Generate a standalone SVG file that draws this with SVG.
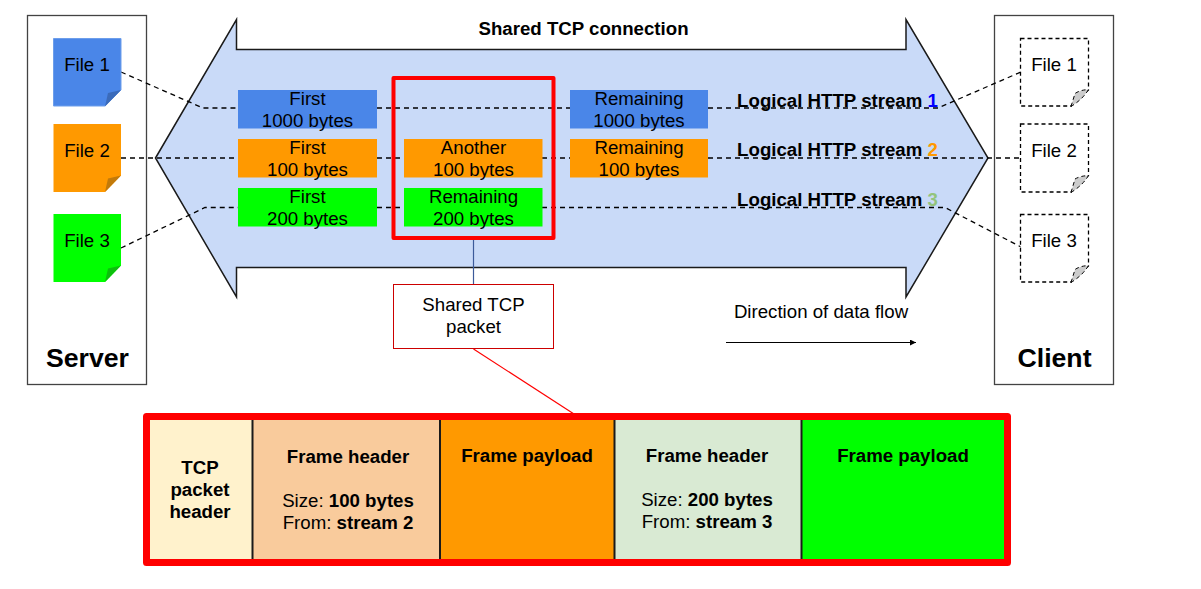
<svg xmlns="http://www.w3.org/2000/svg" width="1201" height="589" viewBox="0 0 1201 589">
<style>
text{font-family:"Liberation Sans",Arial,sans-serif;font-size:18.67px;fill:#000;text-anchor:middle}
.b{font-weight:700}
text.big{font-size:26.67px;font-weight:700}
.box{fill:#fff;stroke:#434343;stroke-width:1.3}
.d{fill:none;stroke:#000;stroke-width:1.3;stroke-dasharray:5 4}
.cell{stroke:#1a1a1a;stroke-width:2}
.ghost{fill:#fff;stroke:#000;stroke-width:1.3;stroke-dasharray:4 3}
.curl{fill:#ccc;stroke:#000;stroke-width:1;stroke-dasharray:4 3}
</style>
<defs>
<marker id="ah" markerWidth="8" markerHeight="8" refX="6" refY="3" orient="auto" markerUnits="userSpaceOnUse"><path d="M0 0L6 3L0 6Z" fill="#000"/></marker>
</defs>
<rect width="1201" height="589" fill="#fff"/>
<g id="server"><rect class="box" x="27.500" y="15.500" width="119" height="369"/><text class="big" x="87.500" y="367">Server</text></g>
<g id="client"><rect class="box" x="994.500" y="15.500" width="119" height="369"/><text class="big" x="1054.500" y="367">Client</text></g>
<g id="tcp-connection"><path d="M155.500 158L236.500 19.500V49.500H906V19.500L988 158L906 297V267.500H236.500V297Z" fill="#c9daf8" stroke="#1a1a1a" stroke-width="1.500" stroke-linejoin="miter"/>
<text class="b" x="583.500" y="34.500">Shared TCP connection</text></g>
<g id="connectors">
<path class="d" d="M121 72L203 108H238M377 108H570M708 108H938L1021 72"/>
<path class="d" d="M121 158H238M377 158H404M542 158H570M708 158H1021"/>
<path class="d" d="M121 248L205 207.500H238M377 207.500H404M542 207.500H945L1021 247"/>
<path d="M473.500 240V285" stroke="#3c5a9a" stroke-width="1.200" fill="none"/>
<path d="M473.500 349L574 414" stroke="#f00" stroke-width="1.200" fill="none"/>
<path d="M726 342.500H916" stroke="#000" stroke-width="1" fill="none" marker-end="url(#ah)"/>
</g>
<g id="server-file-1"><path d="M53.500 38.500H121V90L105 106H53.500Z" fill="#4a86e8" stroke="#6d9eeb"/><path d="M105 106.500L121 90L108 93Z" fill="#3b6bba"/><text x="87" y="71">File 1</text></g>
<g id="server-file-2"><path d="M53.500 124H121V175.500L105 192H53.500Z" fill="#f90"/><path d="M105 192L121 175.500L108 178.500Z" fill="#c27a0a"/><text x="87" y="157">File 2</text></g>
<g id="server-file-3"><path d="M53.500 214H121V265.500L105 282H53.500Z" fill="#0f0"/><path d="M105 282L121 265.500L108 268.500Z" fill="#0cc00c"/><text x="87" y="247">File 3</text></g>
<g id="client-file-1"><path class="ghost" d="M1020.500 38.500H1088.500V90L1071 106H1020.500Z"/><path class="curl" d="M1071 106.500L1075 93.500Q1080 90 1088.500 89.500Q1083 99 1071 106.500Z"/><text x="1054" y="71">File 1</text></g>
<g id="client-file-2"><path class="ghost" d="M1020.500 124H1088.500V175.500L1071 192H1020.500Z"/><path class="curl" d="M1071 192.500L1075 179Q1080 176 1088.500 175.500Q1083 185 1071 192.500Z"/><text x="1054" y="157">File 2</text></g>
<g id="client-file-3"><path class="ghost" d="M1020.500 214.500H1088.500V266L1071 282H1020.500Z"/><path class="curl" d="M1071 282.500L1075 269.500Q1080 266 1088.500 265.500Q1083 275 1071 282.500Z"/><text x="1054" y="247">File 3</text></g>
<g id="first-1000"><rect x="238" y="90" width="139" height="38.500" fill="#4a86e8"/><text x="307.500" y="105">First</text><text x="307.500" y="127">1000 bytes</text></g>
<g id="first-100"><rect x="238" y="139" width="139" height="38.500" fill="#f90"/><text x="307.500" y="154">First</text><text x="307.500" y="176">100 bytes</text></g>
<g id="first-200"><rect x="238" y="188" width="139" height="38.500" fill="#0f0"/><text x="307.500" y="203">First</text><text x="307.500" y="225">200 bytes</text></g>
<g id="another-100"><rect x="404" y="139" width="138.500" height="38.500" fill="#f90"/><text x="473.500" y="154">Another</text><text x="473.500" y="176">100 bytes</text></g>
<g id="remaining-200"><rect x="404" y="188" width="138.500" height="38.500" fill="#0f0"/><text x="473.500" y="203">Remaining</text><text x="473.500" y="225">200 bytes</text></g>
<g id="remaining-1000"><rect x="570" y="90" width="138" height="38.500" fill="#4a86e8"/><text x="639" y="105">Remaining</text><text x="639" y="127">1000 bytes</text></g>
<g id="remaining-100"><rect x="570" y="139" width="138" height="38.500" fill="#f90"/><text x="639" y="154">Remaining</text><text x="639" y="176">100 bytes</text></g>
<g id="stream-labels">
<text class="b" x="837.500" y="107">Logical HTTP stream <tspan fill="#00f">1</tspan></text>
<text class="b" x="837.500" y="156">Logical HTTP stream <tspan fill="#f90">2</tspan></text>
<text class="b" x="837.500" y="206">Logical HTTP stream <tspan fill="#93c47d">3</tspan></text>
</g>
<g id="packet-highlight"><rect x="393.500" y="78" width="160" height="160" fill="none" stroke="#f00" stroke-width="4" stroke-linejoin="round"/></g>
<g id="packet-label"><rect x="393.500" y="284.500" width="160" height="64" fill="#fff" stroke="#c00" stroke-width="1"/><text x="473.500" y="311">Shared TCP</text><text x="473.500" y="333">packet</text></g>
<g id="flow-label"><text x="821" y="318">Direction of data flow</text></g>
<g id="packet-detail">
<rect x="150" y="420" width="103" height="139" fill="#fff2cc"/>
<rect x="253" y="420" width="187" height="139" fill="#f9cb9c"/>
<rect x="440" y="420" width="175" height="139" fill="#f90"/>
<rect x="615" y="420" width="187" height="139" fill="#d9ead3"/>
<rect x="802" y="420" width="202" height="139" fill="#0f0"/>
<path class="cell" d="M252.500 420V559M440 420V559M614.500 420V559M801.500 420V559"/>
<rect x="146.500" y="416.500" width="861" height="146" fill="none" stroke="#f00" stroke-width="7" stroke-linejoin="round"/>
<text class="b" x="200" y="474">TCP</text><text class="b" x="200" y="496">packet</text><text class="b" x="200" y="518">header</text>
<text class="b" x="348" y="463">Frame header</text>
<text x="348" y="507">Size: <tspan class="b">100 bytes</tspan></text>
<text x="348" y="529">From: <tspan class="b">stream 2</tspan></text>
<text class="b" x="527" y="462">Frame payload</text>
<text class="b" x="707" y="462">Frame header</text>
<text x="707" y="506">Size: <tspan class="b">200 bytes</tspan></text>
<text x="707" y="528">From: <tspan class="b">stream 3</tspan></text>
<text class="b" x="903" y="462">Frame payload</text>
</g>
</svg>
